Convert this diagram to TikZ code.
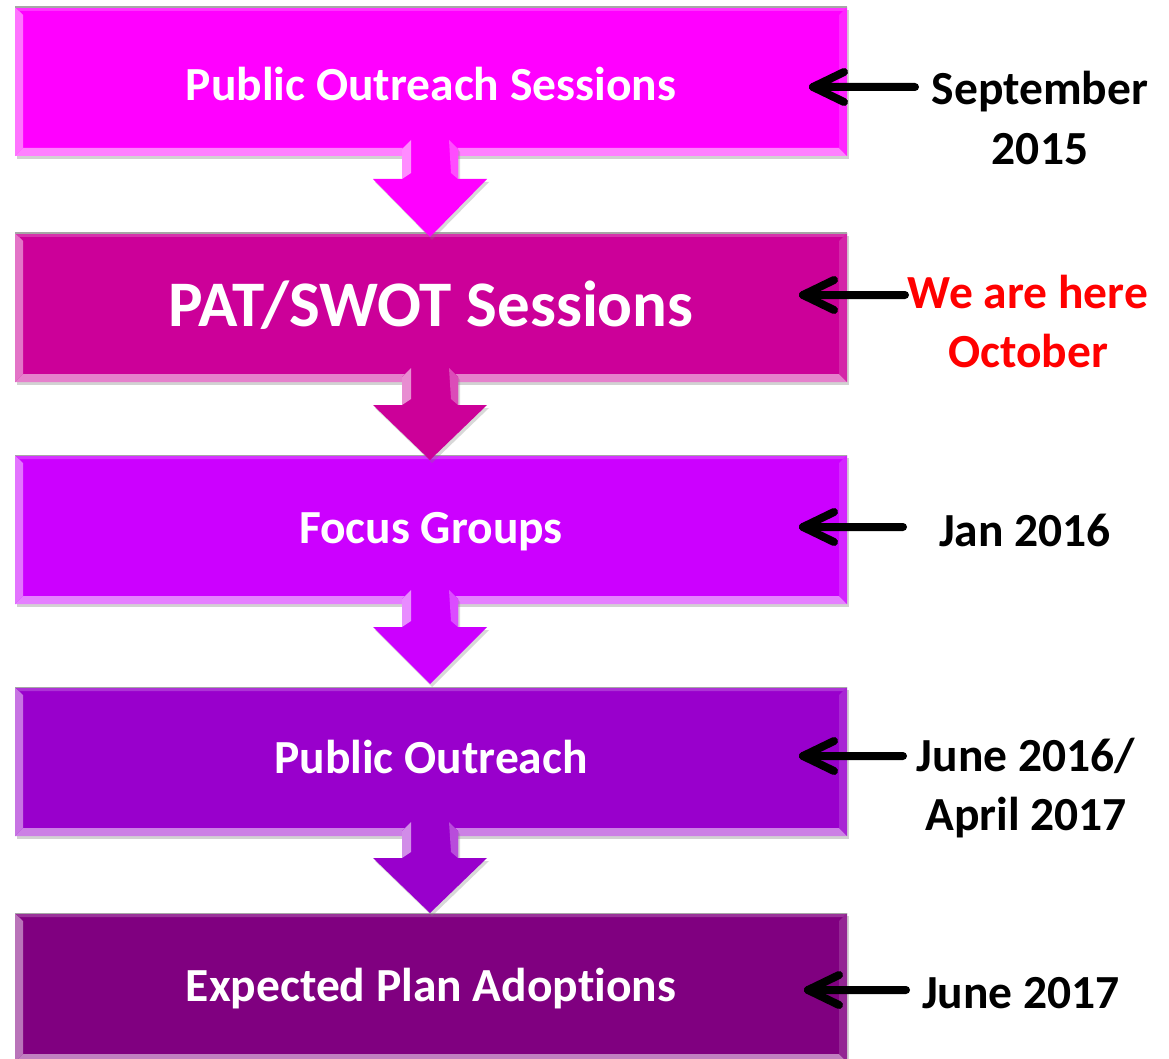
\documentclass[tikz,border=0pt]{standalone}
\usepackage{fontspec}
\setmainfont{Carlito}[Ligatures=NoCommon]
\usetikzlibrary{calc,shadows}
\definecolor{cA}{HTML}{FF00FF}
\definecolor{cB}{HTML}{CC0099}
\definecolor{cC}{HTML}{CC00FF}
\definecolor{cD}{HTML}{9900CC}
\definecolor{cE}{HTML}{800080}
\definecolor{redtxt}{HTML}{FF0000}
\tikzset{
  stagebox/.style={draw=none, fill=#1, minimum width=832pt, minimum height=149pt,
    inner sep=0pt, text=white, text height=27pt, text depth=0pt,
    font=\fontsize{47.5}{56}\selectfont\bfseries,
    drop shadow={opacity=0.35, shadow xshift=2pt, shadow yshift=-3pt},
    path picture={
      \coordinate (SW) at (path picture bounding box.south west);
      \coordinate (SE) at (path picture bounding box.south east);
      \coordinate (NW) at (path picture bounding box.north west);
      \coordinate (NE) at (path picture bounding box.north east);
      \fill[#1!55!white] (SW) -- (NW) -- ([shift={(8pt,-8pt)}]NW) -- ([shift={(8pt,8pt)}]SW) -- cycle;
      \fill[#1!50!white] (SW) -- (SE) -- ([shift={(-8pt,8pt)}]SE) -- ([shift={(8pt,8pt)}]SW) -- cycle;
      \fill[#1!85!white] (SE) -- (NE) -- ([shift={(-8pt,-8pt)}]NE) -- ([shift={(-8pt,8pt)}]SE) -- cycle;
      \fill[#1!80!white] (NW) -- (NE) -- ([shift={(-4pt,-4pt)}]NE) -- ([shift={(4pt,-4pt)}]NW) -- cycle;
      \draw[gray!70, line width=1.2pt] (NW) -- (NE);
    }},
  datelabel/.style={align=center, inner sep=0pt, text=black,
    font=\fontsize{47.5}{59}\selectfont\bfseries},
  pointer/.style={draw=black, line width=8pt, line cap=round, line join=round},
  downarrow/.style={fill=#1, drop shadow={opacity=0.3, shadow xshift=2pt, shadow yshift=-3pt}},
  shafthl/.style={fill=#1!45!white}
}
\begin{document}
\begin{tikzpicture}[x=1pt,y=-1pt]
\useasboundingbox (0,0) rectangle (1169,1059);
\fill[white] (0,0) rectangle (1169,1059);

% boxes
\node[stagebox=cA, text height=39pt] (b1) at (431,81.5) {Public Outreach Sessions};
\node[stagebox=cB, text height=37pt, font=\fontsize{65}{72}\selectfont\bfseries] (b2) at (431,307.5) {PAT/SWOT Sessions};
\node[stagebox=cC] (b3) at (431,529.5) {Focus Groups};
\node[stagebox=cD, text height=24pt] (b4) at (431,761.5) {Public Outreach};
\node[stagebox=cE] (b5) at (431,987.5) {Expected Plan Adoptions};

% down arrows between boxes
\foreach \T/\H/\P/\c in {140/179/237/cA, 368/405/460/cB, 590/627/684/cC, 822/858/913/cD}{
  \fill[downarrow=\c] (402,\T+9) -- (411,\T) -- (449,\T) -- (458,\T+9) -- (458,\H)
     -- (487,\H) -- (430,\P) -- (373,\H) -- (402,\H) -- cycle;
  \fill[shafthl=\c] (402,\T+9) -- (411,\T) -- (411,\H-6) -- (402,\H) -- cycle;
  \fill[\c!70!white] (449,\T) -- (458,\T+9) -- (458,\H) -- (451,\H-6) -- cycle;
}

% date labels
\node[datelabel] (l1) at (1040,118) {September\\2015};
\node[datelabel, text=redtxt] (l2) at (1028,322) {We are here\\October};
\node[datelabel] (l3) at (1025,530) {Jan 2016};
\node[datelabel] (l4) at (1026,788) {June 2016/\\April 2017};
\node[datelabel] (l5) at (1021,993) {June 2017};

% pointer arrows
\coordinate (s1) at (915,87);  \coordinate (t1) at (813,87);
\coordinate (s2) at (905,295); \coordinate (t2) at (803,295);
\coordinate (s3) at (903,527); \coordinate (t3) at (803,527);
\coordinate (s4) at (903,756); \coordinate (t4) at (803,756);
\coordinate (s5) at (906,990); \coordinate (t5) at (808,990);
\foreach \i in {1,...,5}{
  \draw[pointer] (s\i) -- (t\i) -- ++(31pt,15pt);
  \draw[pointer] (t\i) -- ++(31pt,-15pt);
}
\end{tikzpicture}
\end{document}
